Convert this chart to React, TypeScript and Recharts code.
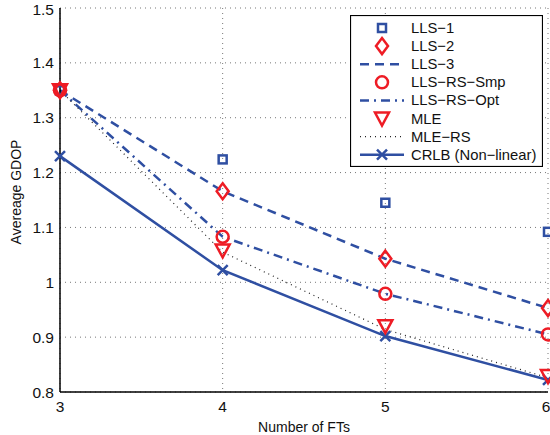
import { ComposedChart, Line, XAxis, YAxis, CartesianGrid } from "recharts";

const numFTs = [3, 4, 5, 6];
const lls1 = [1.35, 1.224, 1.145, 1.092];
const lls2 = [1.35, 1.166, 1.043, 0.953];
const lls3 = [1.35, 1.166, 1.043, 0.953];
const llsRsSmp = [1.35, 1.083, 0.979, 0.905];
const llsRsOpt = [1.35, 1.083, 0.979, 0.905];
const mle = [1.35, 1.058, 0.92, 0.829];
const mleRs = [1.35, 1.055, 0.914, 0.826];
const crlb = [1.23, 1.022, 0.902, 0.822];
const yTicks = [0.8, 0.9, 1, 1.1, 1.2, 1.3, 1.4, 1.5];

const BLUE = "#2f4fa2";
const RED = "#ee1c25";
const FONT = "'Liberation Sans', Arial, sans-serif";

const data = numFTs.map((n, i) => ({
  n,
  lls1: lls1[i],
  lls2: lls2[i],
  lls3: lls3[i],
  llsRsSmp: llsRsSmp[i],
  llsRsOpt: llsRsOpt[i],
  mle: mle[i],
  mleRs: mleRs[i],
  crlb: crlb[i],
}));

const Square = ({ cx, cy }: any) => (
  <rect x={cx - 4} y={cy - 4} width={8} height={8} fill="none" stroke={BLUE} strokeWidth={2.5} />
);
const Diamond = ({ cx, cy }: any) => (
  <polygon points={`${cx},${cy - 8} ${cx + 6},${cy} ${cx},${cy + 8} ${cx - 6},${cy}`} fill="none" stroke={RED} strokeWidth={2.5} />
);
const Circle = ({ cx, cy }: any) => <circle cx={cx} cy={cy} r={6} fill="none" stroke={RED} strokeWidth={2.5} />;
const Tri = ({ cx, cy }: any) => (
  <polygon points={`${cx - 7},${cy - 6} ${cx + 7},${cy - 6} ${cx},${cy + 7}`} fill="none" stroke={RED} strokeWidth={2.5} />
);
const Cross = ({ cx, cy }: any) => (
  <path d={`M${cx - 5},${cy - 5}L${cx + 5},${cy + 5}M${cx - 5},${cy + 5}L${cx + 5},${cy - 5}`} stroke={BLUE} strokeWidth={2.5} />
);

const legendItems = [
  { label: "LLS\u22121", icon: (y: number) => <Square cx={24} cy={y} /> },
  { label: "LLS\u22122", icon: (y: number) => <Diamond cx={24} cy={y} /> },
  { label: "LLS\u22123", icon: (y: number) => <line x1={2} x2={46} y1={y} y2={y} stroke={BLUE} strokeWidth={2.5} strokeDasharray="9 6" /> },
  { label: "LLS\u2212RS\u2212Smp", icon: (y: number) => <Circle cx={24} cy={y} /> },
  { label: "LLS\u2212RS\u2212Opt", icon: (y: number) => <line x1={2} x2={46} y1={y} y2={y} stroke={BLUE} strokeWidth={2.5} strokeDasharray="9 5 2 5" /> },
  { label: "MLE", icon: (y: number) => <Tri cx={24} cy={y} /> },
  { label: "MLE\u2212RS", icon: (y: number) => <line x1={2} x2={46} y1={y} y2={y} stroke="#222" strokeWidth={1.2} strokeDasharray="1 4" /> },
  {
    label: "CRLB (Non\u2212linear)",
    icon: (y: number) => (
      <g>
        <line x1={2} x2={46} y1={y} y2={y} stroke={BLUE} strokeWidth={2.5} />
        <Cross cx={24} cy={y} />
      </g>
    ),
  },
];

const LegendBox = () => (
  <svg width={193} height={152} style={{ display: "block" }}>
    <rect x={0.5} y={0.5} width={192} height={151} fill="#fff" stroke="#000" strokeWidth={1.2} />
    {legendItems.map((it, i) => {
      const y = 13 + i * 18.1;
      return (
        <g key={it.label} transform="translate(8,0)">
          {it.icon(y)}
          <text x={53} y={y + 5} fontSize={14.8} fontFamily={FONT} fill="#111">
            {it.label}
          </text>
        </g>
      );
    })}
  </svg>
);

export default function App() {
  return (
    <div style={{ position: "absolute", left: 0, top: 0, width: 550, height: 435, background: "#fff" }}>
      <ComposedChart width={550} height={435} data={data} margin={{ top: 8, right: 2, bottom: 0, left: 0 }}>
        <CartesianGrid stroke="#777" strokeDasharray="1 4" strokeWidth={1} />
        <XAxis
          dataKey="n"
          type="number"
          domain={[3, 6]}
          ticks={numFTs}
          height={43}
          tickSize={0}
          tickMargin={9}
          axisLine={{ stroke: "#000", strokeWidth: 1.5 }}
          tick={{ fontSize: 15.5, fontFamily: FONT, fill: "#111" }}
          label={{ value: "Number of FTs", position: "insideBottom", offset: 3, fontSize: 14, fontFamily: FONT, fill: "#111" }}
        />
        <XAxis xAxisId="top" dataKey="n" type="number" domain={[3, 6]} orientation="top" height={0} tick={false} axisLine={{ stroke: "#000", strokeWidth: 1.5 }} />
        <YAxis
          type="number"
          domain={[0.8, 1.5]}
          ticks={yTicks}
          width={60}
          tickSize={0}
          tickMargin={6}
          allowDataOverflow
          tickFormatter={(v: number) => String(+v.toFixed(1))}
          axisLine={{ stroke: "#000", strokeWidth: 1.5 }}
          tick={{ fontSize: 15.5, fontFamily: FONT, fill: "#111" }}
          label={{ value: "Avereage GDOP", angle: -90, position: "insideLeft", offset: 16, dy: -8, style: { textAnchor: "middle" }, fontSize: 14, fontFamily: FONT, fill: "#111" }}
        />
        <YAxis yAxisId="right" orientation="right" width={0} domain={[0.8, 1.5]} tick={false} axisLine={{ stroke: "#000", strokeWidth: 1.5 }} />
        <Line dataKey="lls3" stroke={BLUE} strokeWidth={2.5} strokeDasharray="9 6" dot={false} isAnimationActive={false} />
        <Line dataKey="llsRsOpt" stroke={BLUE} strokeWidth={2.5} strokeDasharray="9 5 2 5" dot={false} isAnimationActive={false} />
        <Line dataKey="mleRs" stroke="#222" strokeWidth={1.2} strokeDasharray="1 4" dot={false} isAnimationActive={false} />
        <Line dataKey="crlb" stroke={BLUE} strokeWidth={2.5} dot={<Cross />} isAnimationActive={false} />
        <Line dataKey="lls1" stroke="none" dot={<Square />} isAnimationActive={false} />
        <Line dataKey="mle" stroke="none" dot={<Tri />} isAnimationActive={false} />
        <Line dataKey="llsRsSmp" stroke="none" dot={<Circle />} isAnimationActive={false} />
        <Line dataKey="lls2" stroke="none" dot={<Diamond />} isAnimationActive={false} />
      </ComposedChart>
      <div style={{ position: "absolute", left: 350, top: 15 }}>
        <LegendBox />
      </div>
    </div>
  );
}
